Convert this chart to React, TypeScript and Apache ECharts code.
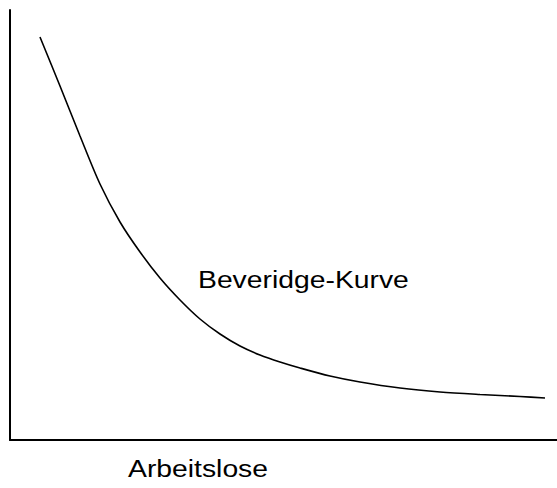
import React, { useEffect, useRef } from "react";
import * as echarts from "echarts";

// Beveridge curve (x: unemployed, y: vacancies) in 0..100 axis units
const curveX = [5.48, 9.14, 12.8, 16.45, 20.11, 23.77, 27.42, 31.08, 34.73, 38.39, 42.05, 45.7, 49.36, 53.02, 58.5, 63.99, 71.3, 78.61, 85.92, 93.24, 97.81];
const curveY = [93.72, 82.33, 70.7, 59.53, 50.7, 43.72, 37.67, 32.56, 28.14, 24.65, 21.86, 19.77, 18.14, 16.74, 14.88, 13.49, 12.09, 11.16, 10.58, 10.12, 9.77];
const curveLabel = "Beveridge-Kurve";
const xAxisLabel = "Arbeitslose";

export default function App() {
  const ref = useRef<HTMLDivElement>(null);
  useEffect(() => {
    if (!ref.current) return;
    const chart = echarts.init(ref.current, undefined, { renderer: "svg" });
    const data = curveX.map((x, i) => [x, curveY[i]]);
    const font = '24px "Liberation Sans", Arial, sans-serif';
    chart.setOption({
      animation: false,
      backgroundColor: "#ffffff",
      grid: { left: 10, top: 10, width: 547, height: 430 },
      xAxis: {
        type: "value",
        min: 0,
        max: 100,
        axisLine: { show: true, lineStyle: { color: "#000", width: 2 } },
        axisTick: { show: false },
        axisLabel: { show: false },
        splitLine: { show: false },
      },
      yAxis: {
        type: "value",
        min: 0,
        max: 100,
        axisLine: { show: true, lineStyle: { color: "#000", width: 2 } },
        axisTick: { show: false },
        axisLabel: { show: false },
        splitLine: { show: false },
      },
      series: [
        {
          type: "line",
          data,
          smooth: 0.3,
          showSymbol: false,
          lineStyle: { color: "#000", width: 1.6 },
        },
      ],
      graphic: [
        {
          type: "text",
          x: 198,
          y: 279.5,
          scaleX: 1.18,
          style: {
            text: curveLabel,
            font,
            fill: "#000",
            textAlign: "left",
            textVerticalAlign: "middle",
          },
        },
        {
          type: "text",
          x: 128,
          y: 469,
          scaleX: 1.18,
          style: {
            text: xAxisLabel,
            font,
            fill: "#000",
            textAlign: "left",
            textVerticalAlign: "middle",
          },
        },
      ],
    });
    return () => chart.dispose();
  }, []);
  return (
    <div
      ref={ref}
      style={{ position: "absolute", left: 0, top: 0, width: 557, height: 488 }}
    />
  );
}
